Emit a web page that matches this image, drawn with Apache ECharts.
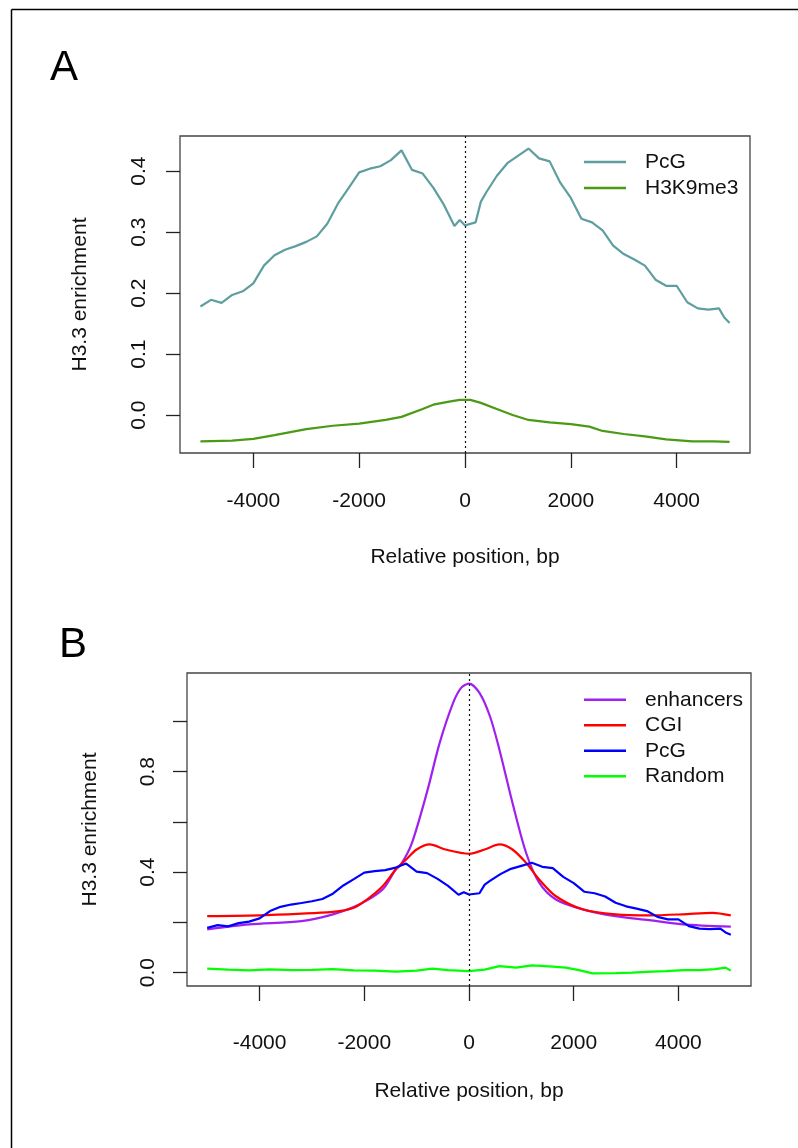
<!DOCTYPE html>
<html>
<head>
<meta charset="utf-8">
<script src="https://cdn.jsdelivr.net/npm/echarts@6/dist/echarts.min.js"></script>
<style>
  html, body { margin: 0; padding: 0; background: #fff; }
  #chart { width: 798px; height: 1148px; }
</style>
</head>
<body>
<div id="chart"></div>
<script>
// panel A
var pcgX = [-5000, -4800, -4600, -4400, -4200, -4000, -3800, -3600, -3400, -3200, -3000, -2800, -2600, -2400, -2200, -2000,
            -1800, -1600, -1400, -1200, -1000, -800, -600, -400, -200, -100, 0, 200, 300, 400, 600, 800, 1000, 1200,
            1400, 1600, 1800, 2000, 2200, 2400, 2600, 2800, 3000, 3200, 3400, 3600, 3800, 4000, 4200, 4400, 4600,
            4800, 4900, 5000];
var pcgY = [0.178, 0.189, 0.184, 0.197, 0.203, 0.216, 0.245, 0.262, 0.271, 0.277, 0.284, 0.293, 0.314, 0.347, 0.372, 0.398,
            0.404, 0.408, 0.418, 0.434, 0.402, 0.396, 0.373, 0.345, 0.310, 0.320, 0.311, 0.316, 0.350, 0.365, 0.392, 0.413, 0.425, 0.437,
            0.421, 0.416, 0.381, 0.356, 0.322, 0.316, 0.303, 0.278, 0.264, 0.255, 0.245, 0.222, 0.212, 0.212, 0.185, 0.175, 0.173,
            0.175, 0.160, 0.151];

var k9X = [-5000, -4400, -4000, -3600, -3000, -2500, -2000, -1500, -1200, -800, -600, -300, -100, 100, 300, 600, 900, 1200,
           1600, 2000, 2350, 2600, 3000, 3400, 3800, 4300, 4700, 5000];
var k9Y = [-0.043, -0.042, -0.039, -0.033, -0.023, -0.0175, -0.014, -0.008, -0.003, 0.010, 0.017, 0.022, 0.025, 0.025, 0.020, 0.010, 0.000, -0.008,
           -0.012, -0.015, -0.019, -0.026, -0.031, -0.035, -0.040, -0.043, -0.043, -0.044];

// panel B
var enhX = [-5000, -4200, -3200, -2600, -2100, -1650, -1400, -1300, -1100, -800, -560, -300, -150, 0, 200, 400, 580, 830,
            1090, 1340, 1660, 2170, 2800, 3440, 4080, 5000];
var enhY = [0.172, 0.192, 0.205, 0.232, 0.271, 0.331, 0.410, 0.430, 0.510, 0.720, 0.914, 1.075, 1.133, 1.150, 1.113, 1.020, 0.888, 0.676,
            0.477, 0.358, 0.291, 0.252, 0.225, 0.209, 0.192, 0.183];

var cgiX = [-5000, -3900, -2600, -2200, -1950, -1650, -1400, -1200, -1000, -750, -450, 0, 300, 580, 830, 1090, 1340, 1660,
            2170, 2800, 3440, 4080, 4650, 5000];
var cgiY = [0.225, 0.229, 0.242, 0.258, 0.291, 0.344, 0.410, 0.450, 0.490, 0.510, 0.490, 0.473, 0.490, 0.510, 0.490, 0.437, 0.371, 0.304,
            0.252, 0.232, 0.228, 0.232, 0.238, 0.228];

var rndX = [-5000, -4600, -4200, -3800, -3400, -3000, -2600, -2200, -1800, -1400, -1000, -700, -400, 0, 300, 580, 900, 1200,
            1600, 1850, 2100, 2360, 2800, 3120, 3500, 3760, 4100, 4400, 4700, 4900, 5000];
var rndY = [0.016, 0.012, 0.009, 0.013, 0.010, 0.011, 0.014, 0.009, 0.008, 0.004, 0.008, 0.016, 0.010, 0.006, 0.012, 0.026, 0.020, 0.029,
            0.024, 0.020, 0.010, -0.003, -0.002, 0.000, 0.004, 0.006, 0.010, 0.010, 0.014, 0.020, 0.008];

var xTicks = [-4000, -2000, 0, 2000, 4000];
var yTicksA = [0, 0.1, 0.2, 0.3, 0.4];
var yTicksB = [0, 0.2, 0.4, 0.6, 0.8, 1.0];
var yLabelsB = [0, 0.4, 0.8];

function pairs(xs, ys) {
    var ret = [];
    for (var i = 0; i < xs.length; i++) {
        ret.push([xs[i], ys[i]]);
    }
    return ret;
}

var FONT = 'Liberation Sans';
var col = {
    pcgA: '#5F9EA0', k9: '#4b9a15',
    enh: '#A020F0', cgi: '#FF0000', pcgB: '#0000FF', rnd: '#00FF00'
};

function xAxisFor(gi, labelMargin, nameGap) {
    return {
        type: 'value', gridIndex: gi, min: -5386, max: 5386,
        name: 'Relative position, bp', nameLocation: 'middle', nameGap: nameGap,
        nameTextStyle: { fontFamily: FONT, fontSize: 21, color: '#111' },
        axisLine: { show: false, onZero: false },
        splitLine: { show: false },
        axisTick: { show: true, length: 15, customValues: xTicks, lineStyle: { color: '#222', width: 1.3 } },
        axisLabel: {
            customValues: xTicks, margin: labelMargin,
            fontFamily: FONT, fontSize: 21, color: '#111',
            formatter: function (v) { return String(v); }
        }
    };
}

function yAxisFor(gi, min, max, ticks, labels, labelMargin, nameGap) {
    return {
        type: 'value', gridIndex: gi, min: min, max: max,
        name: 'H3.3 enrichment', nameLocation: 'middle', nameGap: nameGap, nameRotate: 90,
        nameTextStyle: { fontFamily: FONT, fontSize: 21, color: '#111' },
        axisLine: { show: false, onZero: false },
        splitLine: { show: false },
        axisTick: { show: true, length: 14, customValues: ticks, lineStyle: { color: '#222', width: 1.3 } },
        axisLabel: {
            customValues: labels, margin: labelMargin, rotate: 90,
            fontFamily: FONT, fontSize: 21, color: '#111',
            formatter: function (v) { return Number(v).toFixed(1); }
        }
    };
}

function lineSeries(name, xi, data, color, smooth) {
    return {
        type: 'line', name: name, xAxisIndex: xi, yAxisIndex: xi,
        data: data, symbol: 'none', smooth: smooth || false,
        lineStyle: { color: color, width: 2.2 },
        itemStyle: { color: color }
    };
}

var zeroLine = {
    silent: true, symbol: 'none',
    label: { show: false },
    lineStyle: { color: '#111', type: [2, 3], width: 1.2 },
    data: [{ xAxis: 0 }]
};

var myChart = echarts.init(document.getElementById('chart'), null, { renderer: 'canvas' });

var sA1 = lineSeries('PcG', 0, pairs(pcgX, pcgY), col.pcgA);
sA1.markLine = zeroLine;
var sB1 = lineSeries('enhancers', 1, pairs(enhX, enhY), col.enh, 0.3);
sB1.markLine = zeroLine;

var legendText = { fontFamily: FONT, fontSize: 21, color: '#111', padding: [0, 0, 0, 14] };

option = {
    animation: false,
    backgroundColor: '#fff',
    grid: [
        { left: 180, top: 136, width: 570, height: 317, show: true, borderColor: '#444', borderWidth: 1.3, backgroundColor: 'transparent' },
        { left: 187, top: 673, width: 564, height: 313, show: true, borderColor: '#444', borderWidth: 1.3, backgroundColor: 'transparent' }
    ],
    xAxis: [xAxisFor(0, 38, 94), xAxisFor(1, 47, 95)],
    yAxis: [
        yAxisFor(0, -0.0622, 0.4576, yTicksA, yTicksA, 30, 89),
        yAxisFor(1, -0.053, 1.192, yTicksB, yLabelsB, 28, 86)
    ],
    legend: [
        {
            orient: 'vertical', left: 584, top: 149, padding: 0, icon: 'rect', itemWidth: 42, itemHeight: 2.5, itemGap: 0,
            textStyle: Object.assign({ lineHeight: 26 }, legendText),
            data: [
                { name: 'PcG', itemStyle: { color: col.pcgA } },
                { name: 'H3K9me3', itemStyle: { color: col.k9 } }
            ]
        },
        {
            orient: 'vertical', left: 584, top: 687, padding: 0, icon: 'rect', itemWidth: 42, itemHeight: 2.5, itemGap: 0,
            textStyle: Object.assign({ lineHeight: 25.5 }, legendText),
            data: [
                { name: 'enhancers', itemStyle: { color: col.enh } },
                { name: 'CGI', itemStyle: { color: col.cgi } },
                { name: 'PcG', itemStyle: { color: col.pcgB } },
                { name: 'Random', itemStyle: { color: col.rnd } }
            ]
        }
    ],
    graphic: [
        { type: 'line', shape: { x1: 11.5, y1: 9.5, x2: 798, y2: 9.5 }, style: { stroke: '#000', lineWidth: 1.5 } },
        { type: 'line', shape: { x1: 11.5, y1: 9.5, x2: 11.5, y2: 1148 }, style: { stroke: '#000', lineWidth: 1.5 } },
        { type: 'text', left: 50, top: 47, style: { text: 'A', font: '42px "Liberation Sans"', fill: '#000' } },
        { type: 'text', left: 59, top: 624, style: { text: 'B', font: '42px "Liberation Sans"', fill: '#000' } }
    ],
    series: [
        sA1,
        lineSeries('H3K9me3', 0, pairs(k9X, k9Y), col.k9),
        sB1,
        lineSeries('CGI', 1, pairs(cgiX, cgiY), col.cgi, 0.3),
        lineSeries('PcG', 1, pairs(pcgX, pcgY), col.pcgB),
        lineSeries('Random', 1, pairs(rndX, rndY), col.rnd)
    ]
};

myChart.setOption(option);
</script>
</body>
</html>
